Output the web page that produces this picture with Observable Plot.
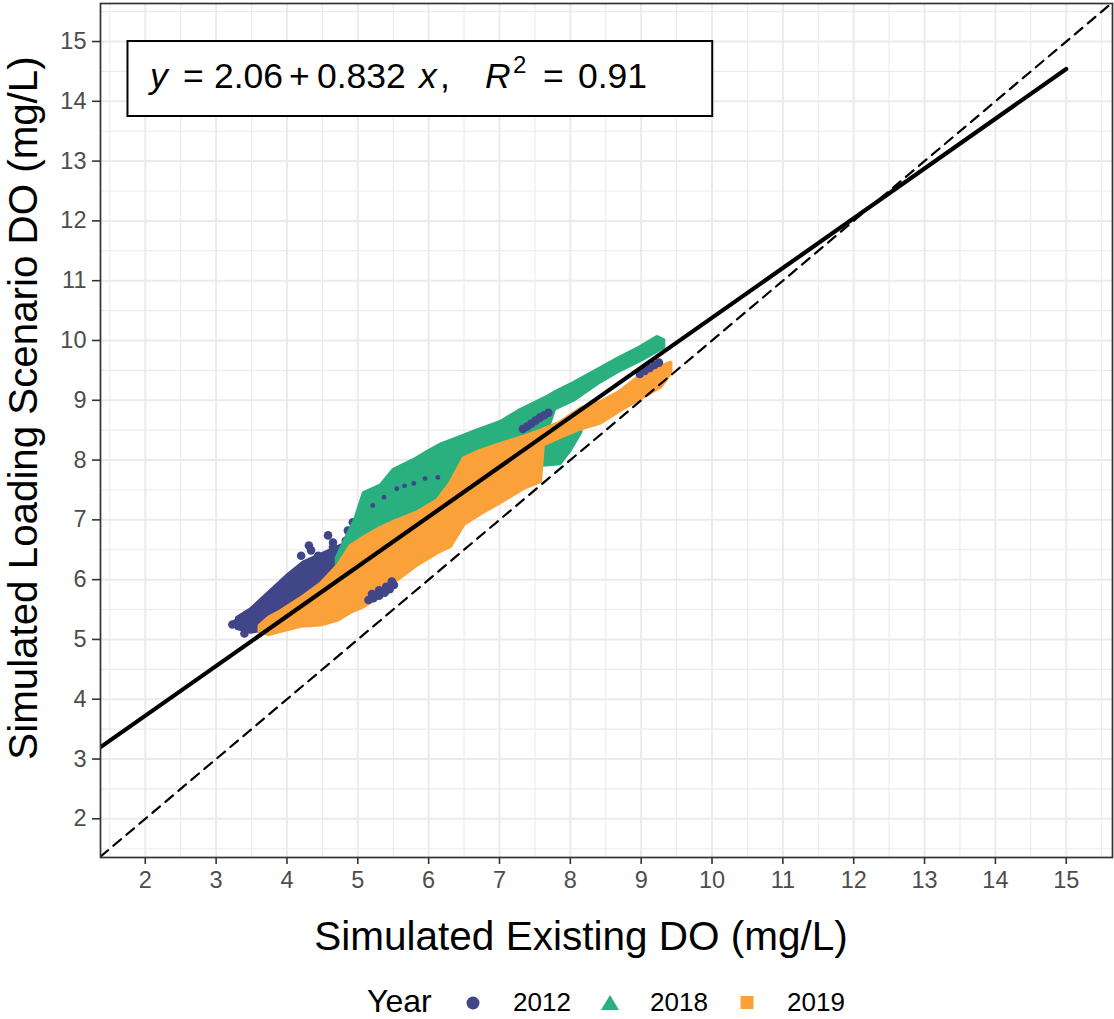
<!DOCTYPE html>
<html><head><meta charset="utf-8">
<script src="https://cdn.jsdelivr.net/npm/d3@7"></script>
<script src="https://cdn.jsdelivr.net/npm/@observablehq/plot@0.6"></script>
<style>
body{margin:0;background:#fff;}
#wrap{position:relative;width:1114px;height:1019px;font-family:"Liberation Sans",Arial,sans-serif;}
#legend{position:absolute;left:0;top:965px;}
</style></head><body><div id="wrap"></div>
<script>
// ---- data ----
const years = ["2012", "2018", "2019"];
const yearColors = ["#404688", "#2AB07F", "#FBA13A"];
const yearSymbols = ["circle", "triangle", "square"];
const majorTicks = [2,3,4,5,6,7,8,9,10,11,12,13,14,15];
const minorTicks = [1.5,2.5,3.5,4.5,5.5,6.5,7.5,8.5,9.5,10.5,11.5,12.5,13.5,14.5,15.5];
const xTitle = "Simulated Existing DO (mg/L)";
const yTitle = "Simulated Loading Scenario DO (mg/L)";
const legendTitle = "Year";

// dense part of the 2012 cloud: [x, y low, y high]
const band2012 = [
  [3.30, 5.18, 5.35], [3.50, 5.12, 5.50], [3.77, 5.18, 5.80], [4.00, 5.35, 6.05],
  [4.24, 5.60, 6.28], [4.50, 5.90, 6.42], [4.80, 6.15, 6.58], [5.00, 6.35, 6.75]
];
// scattered 2012 points around the dense part: [x, y]
const dots2012 = [
  [3.23,5.25],[3.28,5.27],[3.35,5.35],[3.45,5.38],[3.53,5.45],[3.60,5.50],[3.67,5.57],[3.78,5.62],
  [3.89,5.78],[3.95,5.85],[4.01,5.98],[4.10,6.10],[4.20,6.40],[4.25,6.25],[4.31,6.57],[4.34,6.49],
  [4.44,6.40],[4.50,6.30],[4.58,6.74],[4.65,6.62],[4.65,6.54],[4.75,6.45],[4.86,6.82],[4.83,6.65],
  [4.93,6.96],[5.09,7.19],[5.12,7.41],[3.40,5.10],[3.62,5.22],[3.85,5.40],[4.14,5.78],[4.36,5.95]
];
// 2012 streaks that show on top of the other years
const patches2012 = [
  [5.15,5.66],[5.22,5.69],[5.30,5.73],[5.38,5.78],[5.45,5.84],[5.51,5.91],
  [5.20,5.76],[5.30,5.82],[5.40,5.88],[5.48,5.97],
  [7.33,8.52],[7.39,8.56],[7.45,8.61],[7.51,8.66],[7.57,8.71],[7.63,8.75],[7.69,8.79],
  [8.98,9.44],[9.05,9.49],[9.12,9.54],[9.19,9.59],[9.25,9.63]
];
// small 2012 specks inside the 2018 cloud
const specks2012 = [
  [5.21,7.24],[5.37,7.38],[5.55,7.52],[5.66,7.57],[5.79,7.61],[5.95,7.69],[6.13,7.71]
];
// 2018 cloud: main strand and the patch below the 2019 cloud
const band2018 = [
  [4.71, 6.12, 6.36], [4.83, 6.24, 6.66], [4.97, 6.49, 7.00], [5.09, 6.74, 7.44],
  [5.33, 6.91, 7.57], [5.51, 6.99, 7.83], [5.79, 7.12, 7.99], [5.99, 7.21, 8.13],
  [6.17, 7.32, 8.25], [6.41, 7.49, 8.36], [6.69, 7.66, 8.49], [7.02, 7.83, 8.63],
  [7.30, 8.08, 8.83], [7.68, 8.50, 9.05], [7.78, 8.85, 9.12], [8.05, 9.00, 9.28],
  [8.39, 9.28, 9.50], [8.71, 9.50, 9.71], [8.99, 9.66, 9.88], [9.23, 9.82, 10.05],
  [9.32, 9.88, 10.00]
];
const patch2018 = [
  [7.30, 7.99, 8.45], [7.58, 7.91, 8.50], [7.86, 7.94, 8.60], [8.00, 8.16, 8.60], [8.15, 8.46, 8.62]
];
// 2019 cloud
const band2019 = [
  [3.62, 5.12, 5.22], [3.75, 5.08, 5.36], [3.91, 5.13, 5.46], [4.20, 5.22, 5.68],
  [4.48, 5.24, 5.92], [4.72, 5.32, 6.22], [4.90, 5.45, 6.55], [5.09, 5.55, 6.70],
  [5.33, 5.72, 6.86], [5.51, 5.95, 6.96], [5.85, 6.25, 7.12], [6.13, 6.45, 7.32],
  [6.31, 6.55, 7.60], [6.50, 6.92, 8.02], [6.74, 7.10, 8.15], [7.12, 7.36, 8.30],
  [7.34, 7.52, 8.38], [7.58, 7.64, 8.48], [7.62, 8.25, 8.50], [7.86, 8.38, 8.62],
  [8.15, 8.52, 8.85], [8.43, 8.62, 8.96], [8.71, 8.83, 9.14], [8.99, 9.02, 9.40],
  [9.28, 9.22, 9.55], [9.42, 9.45, 9.62]
];
// fitted line end points and the 1:1 line
const fitLine = [[1.30, 3.142], [15.0, 14.54]];
const oneToOne = [[1.0, 1.0], [16.0, 16.0]];
const eqParts = [
  {t: "y", italic: true}, {t: "="}, {t: "2.06"}, {t: "+"}, {t: "0.832"},
  {t: "x", italic: true}, {t: ","}, {t: "R", italic: true}, {t: "2", sup: true}, {t: "="}, {t: "0.91"}
];

// ---- chart ----
const FONT = '"Liberation Sans", Arial, sans-serif';
const area = (data, color) => Plot.area(data, {
  x1: d => d[0], y1: d => d[1], y2: d => d[2],
  fill: color, stroke: color, strokeWidth: 4, strokeLinejoin: "round", curve: "linear"
});
const pts = (data, r, color) => Plot.dot(data, {x: d => d[0], y: d => d[1], r, fill: color});

const chart = Plot.plot({
  width: 1114, height: 965,
  marginLeft: 100, marginRight: 2, marginTop: 3, marginBottom: 108,
  style: {fontFamily: FONT, background: "#fff"},
  x: {domain: [1.368, 15.653], label: null},
  y: {domain: [1.353, 15.636], label: null},
  marks: [
    Plot.gridX(minorTicks, {stroke: "#EBEBEB", strokeOpacity: 1, strokeWidth: 1.1}),
    Plot.gridY(minorTicks, {stroke: "#EBEBEB", strokeOpacity: 1, strokeWidth: 1.1}),
    Plot.gridX(majorTicks, {stroke: "#EBEBEB", strokeOpacity: 1, strokeWidth: 2}),
    Plot.gridY(majorTicks, {stroke: "#EBEBEB", strokeOpacity: 1, strokeWidth: 2}),
    area(band2012, yearColors[0]),
    pts(dots2012, 4.3, yearColors[0]),
    area(band2018, yearColors[1]),
    area(patch2018, yearColors[1]),
    pts(specks2012, 2.4, yearColors[0]),
    area(band2019, yearColors[2]),
    pts(patches2012, 4.3, yearColors[0]),
    Plot.line(oneToOne, {x: d => d[0], y: d => d[1], stroke: "#000", strokeWidth: 2.2, strokeDasharray: "10,7", clip: true}),
    Plot.line(fitLine, {x: d => d[0], y: d => d[1], stroke: "#000", strokeWidth: 4.2, clip: true}),
    Plot.frame({stroke: "#333333", strokeWidth: 1.7}),
    Plot.axisX(majorTicks, {tickSize: 7, tickPadding: 7, fontSize: 23.5, fill: "#4D4D4D", stroke: "#333333", strokeWidth: 1.6, label: null, tickFormat: d => String(d)}),
    Plot.axisY(majorTicks, {tickSize: 8, tickPadding: 6, fontSize: 23.5, fill: "#4D4D4D", stroke: "#333333", strokeWidth: 1.6, label: null, tickFormat: d => String(d)})
  ]
});

const svg = d3.select(chart);
const sx = chart.scale("x"), sy = chart.scale("y");

// axis titles
svg.append("text").attr("x", 581).attr("y", 950).attr("text-anchor", "middle")
  .attr("font-size", 40.5).attr("fill", "#000").attr("font-family", FONT).text(xTitle);
svg.append("text").attr("transform", "translate(37,408) rotate(-90)").attr("text-anchor", "middle")
  .attr("font-size", 40.3).attr("fill", "#000").attr("font-family", FONT).text(yTitle);

// equation label (anchored in data coordinates)
const bx1 = sx.apply(1.756), bx2 = sx.apply(10.01), by1 = sy.apply(15.0), by2 = sy.apply(13.746);
svg.append("rect").attr("x", bx1).attr("y", by1).attr("width", bx2 - bx1).attr("height", by2 - by1)
  .attr("fill", "#fff").attr("stroke", "#000").attr("stroke-width", 2);
const eqX = [150, 183, 214, 289, 317, 419, 440, 485, 513, 543, 578];
const eq = svg.append("g").attr("font-family", FONT).attr("fill", "#000").attr("text-anchor", "start");
eqParts.forEach((p, i) => {
  eq.append("text").attr("x", eqX[i]).attr("y", p.sup ? 73 : 88).attr("text-anchor", "start")
    .attr("font-size", p.sup ? 24 : 35.5)
    .attr("font-style", p.italic ? "italic" : "normal").text(p.t);
});

document.getElementById("wrap").appendChild(chart);

// legend
const lg = d3.select("#wrap").append("svg").attr("id", "legend").attr("width", 1114).attr("height", 54);
lg.append("text").attr("x", 367).attr("y", 47).attr("font-size", 32).attr("font-family", FONT).text(legendTitle);
const symX = [473, 610, 747];
years.forEach((yr, i) => {
  const cx = symX[i], cy = 38;
  if (yearSymbols[i] === "circle") lg.append("circle").attr("cx", cx).attr("cy", cy).attr("r", 6.5).attr("fill", yearColors[i]);
  else if (yearSymbols[i] === "triangle") lg.append("path").attr("d", `M${cx},${cy-8}L${cx+9},${cy+7}L${cx-9},${cy+7}Z`).attr("fill", yearColors[i]);
  else lg.append("rect").attr("x", cx - 6.5).attr("y", cy - 7).attr("width", 13).attr("height", 13).attr("fill", yearColors[i]);
  lg.append("text").attr("x", cx + 40).attr("y", 46).attr("font-size", 26).attr("font-family", FONT).text(yr);
});
</script></body></html>
